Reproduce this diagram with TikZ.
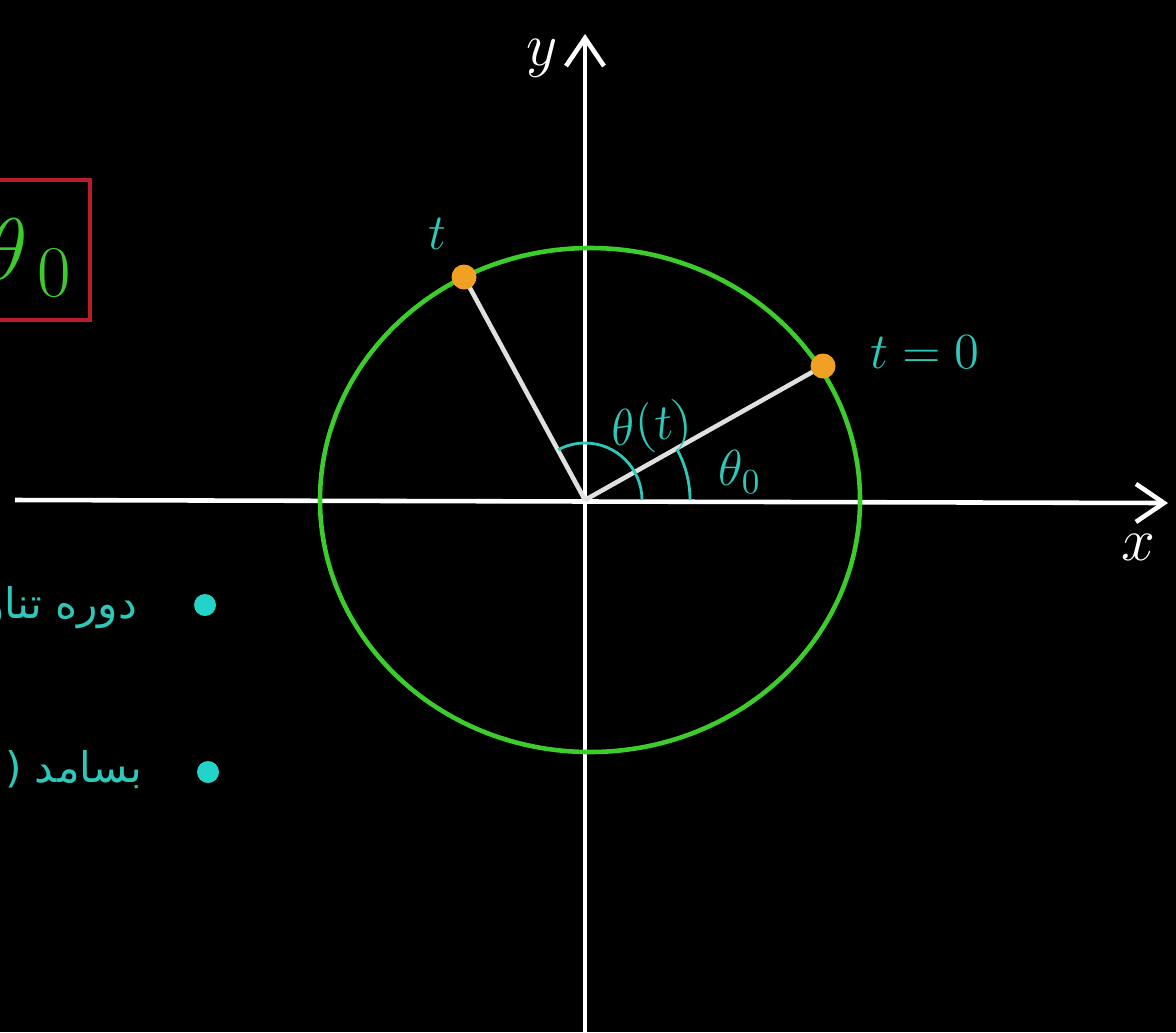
\documentclass[tikz,border=0pt]{standalone}
\usepackage{fontspec}
\usepackage{xcolor}
\usepackage{tikz}
\usetikzlibrary{arrows.meta}
\newfontfamily\arabicfont[Script=Arabic]{DejaVu Sans}
\TeXXeTstate=1
\definecolor{chalkgreen}{RGB}{60,205,45}
\definecolor{chalkcyan}{RGB}{45,200,185}
\definecolor{chalkorange}{RGB}{240,160,35}
\definecolor{chalkred}{RGB}{185,30,40}

\begin{document}
\begin{tikzpicture}[
    thick,
    axis/.style={white, line width=1.3pt, -{Straight Barb[length=2.8mm, width=3.8mm]}},
    spoke/.style={white!88!black, line width=1.3pt},
    mass/.style={circle, fill=chalkorange, inner sep=0pt, minimum size=0.25cm},
    dotmark/.style={circle, fill=chalkcyan!80!cyan, inner sep=0pt, minimum size=0.2cm},
    lbl/.style={text=chalkcyan, font=\Large},
    note/.style={text=chalkcyan, font=\arabicfont\large, anchor=east}
]
    % Board
    \fill [black] (0,0) rectangle (11.76,10.32);
    \useasboundingbox (0,0) rectangle (11.76,10.32);
    \clip (0,0) rectangle (11.76,10.32);

    % Axes
    \coordinate (O)  at (5.85,5.32);
    \coordinate (xl) at (0.15,5.32);
    \coordinate (xr) at (11.68,5.29);
    \coordinate (yb) at (5.85,-0.10);
    \coordinate (yt) at (5.85,9.98);
    \draw [axis] (xl) -- (xr);
    \draw [axis] (yb) -- (yt);
    \node (xlab) [white, font=\LARGE] at (11.38,4.85) {$x$};
    \node (ylab) [white, font=\LARGE] at (5.42,9.74) {$y$};

    % Path of the motion
    \draw [chalkgreen, line width=1.3pt] (5.90,5.32) ellipse [x radius=2.70, y radius=2.52];

    % Radii to the two positions
    \coordinate (pzero) at (8.23,6.66);
    \coordinate (pnow)  at (4.64,7.55);
    \draw [spoke] (O) -- (pzero);
    \draw [spoke] (O) -- (pnow);
    \node (tzero) [mass] at (pzero) {};
    \node (tnow)  [mass] at (pnow) {};

    % Angles
    \draw [chalkcyan] ([shift={(0:1.05)}]O) arc [start angle=0, end angle=29, radius=1.05];
    \draw [chalkcyan] ([shift={(0:0.57)}]O) arc [start angle=0, end angle=118, radius=0.57];
    \node (thetat) [lbl, rotate=8] at (6.52,6.04) {$\theta(t)$};
    \node (theta0) [lbl] at (7.40,5.60) {$\theta_0$};
    \node (tzerolab) [lbl] at (9.25,6.80) {$t=0$};
    \node (tnowlab)  [lbl] at (4.37,7.98) {$t$};

    % Boxed result on the left
    \draw [chalkred, line width=1.1pt] (-0.20,7.12) rectangle (0.90,8.52);
    \node (boxed) [text=chalkgreen, font=\Huge, anchor=west, inner sep=0pt] at (-0.16,7.74) {$\theta_{\,0}$};

    % Notes
    \node (b1) [dotmark, minimum width=0.22cm] at (2.05,4.27) {};
    \node (b2) [dotmark, minimum width=0.22cm] at (2.08,2.60) {};
    \node (period) [note] at (1.50,4.24) {\beginR دوره تناوب\endR};
    \node (freq)   [note] at (1.55,2.62) {\beginR بسامد (\endR};

\end{tikzpicture}
\end{document}
